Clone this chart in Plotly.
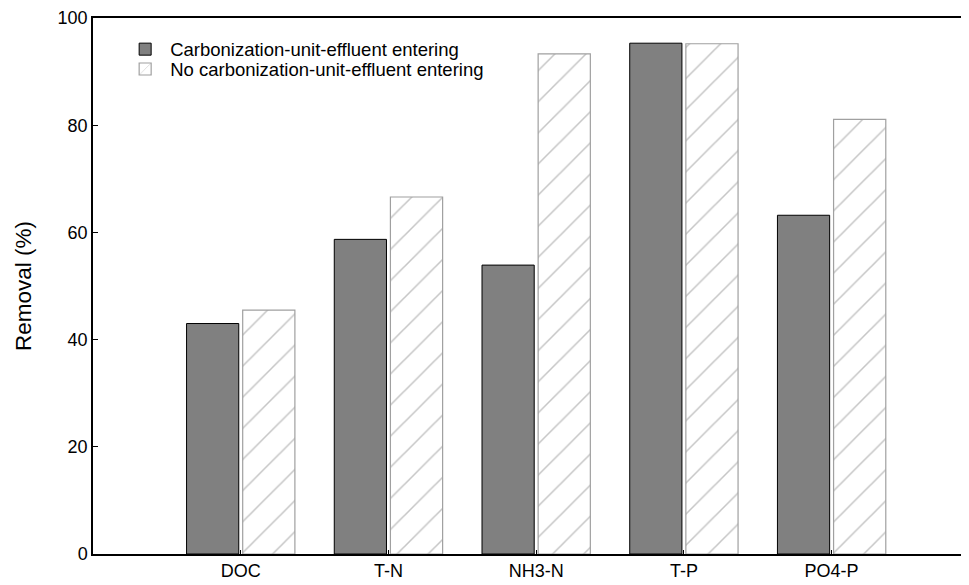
import plotly.graph_objects as go

categories = ["DOC", "T-N", "NH3-N", "T-P", "PO4-P"]
with_effluent = [43.0, 58.7, 53.9, 95.3, 63.2]
without_effluent = [45.5, 66.6, 93.3, 95.2, 81.1]
series_names = ["Carbonization-unit-effluent entering", "No carbonization-unit-effluent entering"]
y_ticks = [0, 20, 40, 60, 80, 100]

FONT = "Liberation Sans, Arial, sans-serif"

fig = go.Figure()
fig.add_trace(go.Bar(
    x=categories, y=with_effluent, name=series_names[0], legend="legend",
    marker=dict(color="#808080", line=dict(color="#000000", width=1)),
))
fig.add_trace(go.Bar(
    x=categories, y=without_effluent, name=series_names[1], legend="legend2",
    marker=dict(color="#ffffff", line=dict(color="#a0a0a0", width=1.2),
                pattern=dict(shape="/", fgcolor="#8c8c8c", bgcolor="#ffffff",
                             size=22, solidity=0.07)),
))

leg_common = dict(xanchor="left", yanchor="middle", bgcolor="rgba(0,0,0,0)",
                  font=dict(size=18.5), itemwidth=40)

fig.update_layout(
    width=969, height=585,
    margin=dict(l=85, r=8, t=10, b=39),
    paper_bgcolor="white", plot_bgcolor="white",
    barmode="group", bargap=0.24, bargroupgap=0.07,
    font=dict(family=FONT, size=18, color="#000000"),
    showlegend=True,
    legend=dict(x=0.031, y=0.941, **leg_common),
    legend2=dict(x=0.031, y=0.904, **leg_common),
    xaxis=dict(
        type="category", range=[-1, 4.93], automargin=False,
        showline=True, linecolor="#000000", linewidth=1.5, mirror=True,
        ticks="inside", ticklen=4, tickcolor="#000000",
        showgrid=False, zeroline=False,
        tickfont=dict(size=18),
    ),
    yaxis=dict(
        range=[0, 100], tickvals=y_ticks, automargin=False,
        showline=True, linecolor="#000000", linewidth=1.5, mirror=False,
        ticks="inside", ticklen=5, tickcolor="#000000",
        showgrid=False, zeroline=False,
        title=dict(text="Removal (%)", font=dict(size=22.5), standoff=20),
        tickfont=dict(size=18),
    ),
)

fig.write_html("out.html")
